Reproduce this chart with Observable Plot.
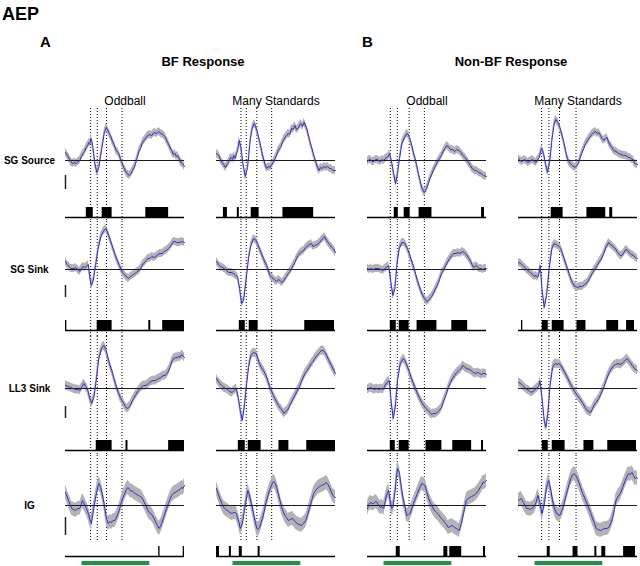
<!DOCTYPE html>
<html><head><meta charset="utf-8">
<script src="https://cdn.jsdelivr.net/npm/d3@7"></script>
<script src="https://cdn.jsdelivr.net/npm/@observablehq/plot@0.6"></script>
<style>
body{margin:0;background:#fff;font-family:"Liberation Sans",Arial,sans-serif;}
#wrap{position:relative;width:640px;height:566px;overflow:hidden;background:#fff;}
.t{position:absolute;white-space:nowrap;font-weight:bold;color:#000;line-height:1;}
.row{position:absolute;left:0;}
</style></head><body><div id="wrap">
<div class="t" style="left:2px;top:5px;font-size:18px">AEP</div>
<div class="t" style="left:40px;top:34px;font-size:15px">A</div>
<div class="t" style="left:362px;top:34px;font-size:15px">B</div>
<div class="t" style="left:203px;top:55px;font-size:13px;transform:translateX(-50%)">BF Response</div>
<div class="t" style="left:511px;top:55px;font-size:13px;transform:translateX(-50%)">Non-BF Response</div>
</div>
<script>
// ---- categories ----
const columns = ["BF|Oddball", "BF|Many Standards", "Non-BF|Oddball", "Non-BF|Many Standards"];
const columnLabels = ["Oddball", "Many Standards", "Oddball", "Many Standards"];
const rowLabels = ["SG Source", "SG Sink", "LL3 Sink", "IG"];

// ---- time domain (ms) and stimulus bar ----
const timeDomain = [-50, 310];
const stimulus = [0, 205];

// ---- dotted reference times per column (ms) ----
const markerTimes = [[26, 46, 74, 121], [24, 40, 72, 117], [19, 40, 76, 122], [20, 42, 74, 124]];

// ---- waveforms [time ms, amplitude] ----
const sgSourceBfOdd = [[-50,8],[-44,5],[-39,2],[-34,-1],[-29,-3],[-23,-2],[-17,-3],[-12,-1],[-7,0],[-2,4],[3,7],[8,9],[13,13],[17,15],[21,18],[24,17],[27,22],[30,19],[33,13],[39,-3],[45,-12],[51,-7],[55,2],[59,10],[63,18],[67,27],[73,33],[77,31],[81,28],[86,25],[91,20],[97,16],[103,10],[110,8],[116,2],[121,-2],[126,-7],[131,-10],[136,-13],[143,-15],[148,-13],[153,-10],[158,-7],[163,-2],[168,4],[173,10],[178,13],[183,18],[190,21],[196,24],[204,26],[211,25],[218,28],[226,27],[232,29],[239,27],[245,26],[251,24],[256,20],[261,17],[266,13],[271,10],[276,6],[281,7],[285,4],[289,5],[294,2],[299,-2],[304,-3],[310,-6]];
const sgSourceBfMany = [[-50,7],[-43,5],[-38,1],[-33,-2],[-28,-4],[-23,-7],[-18,-4],[-13,-2],[-9,2],[-5,3],[-1,1],[2,5],[7,2],[10,6],[14,10],[19,20],[24,13],[30,-3],[37,-16],[44,-7],[48,6],[52,20],[58,32],[64,37],[68,35],[72,30],[77,24],[82,17],[87,9],[92,2],[97,-4],[102,-8],[107,-6],[112,-7],[117,-4],[122,-2],[130,4],[137,10],[145,14],[152,20],[160,24],[167,27],[172,26],[177,32],[182,31],[187,35],[192,31],[197,32],[201,35],[205,37],[210,34],[215,38],[222,33],[227,27],[232,20],[237,14],[242,8],[247,2],[252,-3],[256,-7],[260,-10],[265,-7],[270,-8],[275,-6],[280,-7],[286,-6],[292,-8],[297,-8],[302,-10],[310,-10]];
const sgSourceNonOdd = [[-50,-1],[-45,1],[-41,1],[-36,-1],[-31,-1],[-26,1],[-21,1],[-16,0],[-11,-1],[-6,1],[-1,0],[4,2],[9,3],[13,4],[17,7],[24,-3],[29,-13],[35,-23],[41,-13],[47,2],[54,17],[62,23],[69,27],[73,26],[77,23],[84,15],[89,8],[94,2],[99,-5],[104,-13],[109,-20],[114,-27],[122,-32],[129,-28],[134,-23],[139,-18],[144,-14],[149,-10],[155,-6],[161,-2],[168,2],[174,5],[179,9],[184,12],[191,15],[196,13],[201,11],[207,11],[214,9],[220,11],[227,10],[233,8],[239,5],[245,3],[251,0],[256,-2],[261,-5],[267,-8],[274,-10],[280,-10],[287,-12],[294,-13],[301,-15],[310,-16]];
const sgSourceNonMany = [[-50,2],[-45,0],[-39,-1],[-33,1],[-27,0],[-22,-2],[-17,-1],[-12,0],[-7,1],[-2,-1],[3,-2],[8,1],[13,3],[17,9],[20,12],[23,10],[26,7],[33,-5],[38,-12],[45,0],[51,20],[58,37],[63,41],[67,39],[71,37],[78,30],[83,24],[88,17],[93,9],[98,2],[102,-1],[106,-3],[113,-5],[121,-7],[126,-5],[131,-3],[136,2],[141,7],[147,12],[153,17],[159,20],[165,23],[171,26],[178,28],[183,29],[188,27],[193,28],[198,25],[203,22],[208,20],[213,22],[218,23],[223,18],[228,15],[233,13],[238,10],[245,9],[253,7],[260,6],[268,5],[275,5],[283,3],[288,3],[293,1],[297,1],[301,-3],[310,-4]];

const sgSinkBfOdd = [[-50,8],[-45,5],[-39,3],[-34,1],[-29,1],[-24,1],[-19,2],[-13,0],[-7,-2],[-2,1],[3,3],[8,2],[13,3],[19,5],[23,-6],[28,-16],[34,-11],[41,4],[49,21],[57,33],[66,39],[73,41],[81,34],[86,29],[91,24],[97,18],[103,12],[108,8],[113,4],[118,0],[123,-3],[128,-5],[133,-7],[137,-8],[141,-9],[146,-7],[151,-6],[156,-5],[161,-4],[167,-2],[173,-1],[180,3],[186,6],[192,8],[199,11],[205,11],[211,13],[217,12],[223,13],[230,15],[236,16],[242,16],[249,18],[255,19],[261,21],[267,23],[273,26],[277,28],[281,28],[286,27],[291,27],[296,27],[301,28],[310,27]];
const sgSinkBfMany = [[-50,8],[-44,5],[-38,3],[-32,2],[-26,1],[-20,-1],[-13,-3],[-6,-3],[2,-4],[8,-6],[14,-7],[20,-19],[26,-34],[32,-31],[39,-12],[47,11],[54,24],[62,31],[70,29],[75,25],[80,21],[86,16],[92,11],[97,7],[102,4],[107,-1],[112,-6],[117,-8],[122,-9],[127,-11],[132,-12],[137,-10],[142,-11],[147,-13],[152,-12],[157,-9],[162,-7],[167,-4],[172,-2],[177,1],[182,4],[187,7],[192,11],[197,14],[202,16],[208,18],[214,19],[220,22],[227,24],[232,25],[237,26],[242,23],[247,24],[255,25],[262,27],[268,30],[273,31],[277,33],[283,29],[288,27],[292,25],[296,23],[300,22],[305,20],[310,17]];
const sgSinkNonOdd = [[-50,1],[-45,0],[-41,1],[-33,0],[-26,1],[-21,1],[-16,1],[-9,0],[-3,-1],[2,1],[7,2],[14,4],[21,-13],[27,-26],[33,-19],[39,4],[46,21],[54,27],[61,27],[66,24],[71,21],[76,16],[81,11],[86,6],[91,1],[96,-5],[101,-11],[106,-16],[111,-21],[116,-25],[121,-28],[129,-32],[134,-31],[139,-29],[144,-27],[149,-24],[155,-20],[161,-16],[168,-10],[174,-4],[181,0],[187,4],[193,8],[199,11],[205,14],[211,16],[218,16],[224,17],[230,16],[237,18],[243,17],[249,15],[255,12],[261,9],[266,5],[271,2],[275,3],[279,4],[284,2],[289,1],[294,1],[299,0],[304,1],[310,1]];
const sgSinkNonMany = [[-50,7],[-43,6],[-37,4],[-31,2],[-25,0],[-18,-2],[-12,-4],[-7,-5],[-2,-7],[3,-6],[8,-8],[12,-4],[16,4],[21,-19],[28,-38],[35,-26],[43,1],[51,21],[58,26],[63,25],[68,24],[73,23],[78,21],[83,16],[88,11],[93,6],[98,1],[103,-4],[108,-9],[113,-13],[118,-16],[123,-17],[128,-18],[136,-17],[143,-17],[150,-15],[158,-13],[165,-9],[173,-4],[180,0],[188,4],[195,8],[203,12],[208,16],[213,21],[218,24],[223,27],[228,25],[233,24],[238,22],[243,21],[248,18],[253,16],[258,14],[263,14],[269,17],[275,20],[280,19],[285,17],[291,15],[298,14],[304,12],[310,11]];

const ll3SinkBfOdd = [[-50,3],[-42,2],[-34,1],[-27,0],[-19,-1],[-13,-1],[-7,-2],[0,2],[6,5],[11,2],[16,0],[23,-9],[29,-15],[36,-9],[43,8],[51,30],[59,40],[66,43],[73,38],[78,31],[83,25],[90,18],[96,11],[101,5],[106,0],[111,-5],[116,-9],[121,-12],[126,-15],[131,-18],[136,-20],[141,-19],[146,-17],[151,-13],[156,-10],[163,-6],[171,-2],[178,1],[186,3],[193,3],[201,5],[208,7],[216,8],[223,8],[231,10],[238,11],[246,13],[252,13],[259,16],[266,21],[273,28],[278,30],[283,31],[288,31],[293,32],[297,31],[301,34],[305,33],[310,31]];
const ll3SinkBfMany = [[-50,10],[-45,7],[-40,5],[-34,3],[-28,1],[-22,0],[-16,-1],[-10,-3],[-3,-4],[3,-2],[10,0],[16,-9],[22,-22],[28,-32],[34,-19],[40,1],[47,21],[54,33],[62,36],[70,35],[75,30],[80,25],[86,21],[92,18],[97,15],[102,11],[107,6],[112,1],[117,-3],[122,-7],[127,-10],[132,-14],[138,-17],[144,-20],[149,-22],[154,-25],[159,-23],[164,-22],[169,-19],[174,-15],[181,-11],[187,-7],[193,-3],[200,1],[206,6],[212,11],[218,15],[224,18],[230,21],[237,25],[242,27],[247,30],[254,33],[262,36],[267,38],[272,38],[277,37],[283,33],[290,28],[296,24],[302,20],[310,15]];
const ll3SinkNonOdd = [[-50,-1],[-45,0],[-41,1],[-35,0],[-29,-1],[-22,0],[-16,-1],[-9,0],[-3,-1],[3,3],[9,6],[16,8],[22,-14],[28,-30],[34,-19],[41,8],[49,25],[59,30],[63,28],[67,25],[72,21],[77,16],[83,10],[89,5],[95,0],[101,-5],[107,-9],[114,-14],[120,-17],[127,-20],[133,-22],[139,-24],[144,-26],[149,-25],[155,-25],[161,-24],[167,-22],[174,-19],[181,-12],[189,-5],[195,1],[201,6],[207,10],[214,13],[220,16],[227,18],[233,20],[239,23],[245,21],[251,20],[258,19],[264,18],[270,16],[277,15],[283,16],[289,15],[294,14],[299,15],[305,15],[310,14]];
const ll3SinkNonMany = [[-50,6],[-43,5],[-37,3],[-31,1],[-25,-1],[-18,-2],[-12,-4],[-7,-3],[-2,-2],[3,0],[8,1],[12,3],[15,8],[21,-9],[28,-32],[33,-39],[39,-25],[45,1],[53,21],[58,24],[63,25],[68,24],[73,25],[78,23],[83,20],[90,16],[98,11],[105,6],[113,1],[120,-3],[128,-7],[135,-10],[143,-14],[150,-18],[158,-22],[163,-23],[168,-24],[173,-21],[178,-17],[185,-14],[193,-10],[200,-5],[208,1],[215,8],[223,15],[230,19],[238,23],[244,24],[251,25],[257,24],[263,25],[270,27],[278,30],[283,28],[288,26],[294,23],[301,20],[310,18]];

const igBfOdd = [[-50,13],[-45,9],[-41,5],[-36,1],[-31,-3],[-25,-4],[-19,-5],[-13,-3],[-7,-3],[-3,0],[1,5],[5,3],[9,0],[12,-2],[16,-5],[20,-9],[23,-13],[28,-18],[32,-10],[36,-2],[40,6],[44,13],[48,19],[51,22],[54,20],[57,18],[60,13],[64,7],[68,0],[71,-8],[75,-14],[79,-18],[84,-16],[89,-17],[94,-15],[99,-15],[104,-12],[109,-8],[114,-3],[119,3],[124,8],[129,12],[134,16],[139,18],[144,16],[148,14],[151,15],[156,13],[161,12],[166,11],[171,10],[176,9],[181,8],[187,4],[193,0],[198,-4],[203,-7],[208,-8],[213,-10],[218,-13],[223,-17],[228,-20],[233,-23],[237,-21],[241,-18],[246,-13],[251,-8],[256,-3],[261,2],[266,6],[271,10],[276,12],[281,13],[286,14],[291,15],[296,16],[301,18],[305,17],[310,20]];
const igBfMany = [[-50,17],[-45,12],[-40,7],[-34,2],[-28,-2],[-22,-4],[-16,-5],[-10,-7],[-3,-8],[2,-7],[7,-7],[11,-9],[14,-12],[18,-17],[22,-23],[26,-20],[30,-15],[34,-6],[38,2],[42,10],[45,15],[48,12],[52,7],[57,0],[62,-8],[67,-16],[72,-23],[76,-24],[80,-22],[85,-17],[90,-12],[95,-5],[100,3],[105,9],[110,15],[115,19],[120,23],[124,24],[128,22],[132,18],[137,12],[142,5],[147,-2],[152,-6],[157,-10],[162,-12],[167,-15],[173,-14],[180,-13],[187,-16],[194,-18],[200,-19],[207,-20],[213,-18],[220,-15],[226,-9],[232,-2],[238,5],[244,12],[250,15],[257,18],[262,19],[267,20],[275,21],[282,23],[287,21],[292,18],[297,14],[302,10],[306,9],[310,8]];
const igNonOdd = [[-50,-3],[-46,1],[-41,3],[-36,2],[-31,2],[-26,4],[-21,3],[-16,0],[-11,-2],[-6,-1],[-1,-3],[3,3],[6,8],[10,12],[14,15],[18,6],[21,0],[24,-3],[27,-2],[30,6],[34,15],[37,27],[41,37],[44,35],[47,32],[50,24],[54,15],[57,8],[61,2],[65,-4],[69,-10],[74,-9],[79,-8],[84,-3],[89,2],[95,7],[101,12],[107,17],[114,22],[119,21],[124,20],[129,14],[134,8],[140,3],[147,-2],[153,-5],[159,-7],[165,-9],[171,-12],[177,-14],[184,-17],[189,-19],[194,-22],[200,-21],[207,-20],[213,-22],[219,-23],[223,-24],[227,-25],[230,-22],[234,-18],[238,-12],[241,-7],[245,-1],[249,5],[254,7],[259,8],[265,9],[271,10],[276,11],[281,13],[286,15],[291,18],[295,20],[299,23],[304,23],[310,25]];
const igNonMany = [[-50,5],[-46,6],[-42,7],[-38,5],[-35,3],[-30,0],[-25,-3],[-20,-3],[-15,-4],[-10,-3],[-5,-2],[-1,0],[3,3],[6,7],[9,10],[12,6],[15,3],[18,-3],[21,-8],[25,-3],[29,3],[32,11],[35,18],[38,22],[41,25],[44,21],[48,15],[52,7],[56,0],[60,-4],[65,-8],[70,-9],[75,-10],[80,-6],[85,-2],[91,6],[98,15],[103,21],[108,27],[113,30],[118,32],[123,30],[128,27],[133,23],[138,18],[144,12],[151,7],[157,2],[163,-3],[168,-7],[173,-12],[179,-17],[185,-23],[191,-24],[198,-25],[204,-24],[211,-23],[217,-23],[223,-22],[229,-18],[235,-12],[240,-4],[245,5],[251,9],[258,12],[265,18],[273,25],[278,29],[283,32],[288,31],[293,33],[298,30],[303,27],[306,28],[310,27]];

// ---- band half-widths (SEM) per row ----
const semByRow = [4, 4, 4.5, 7];

// ---- significance intervals [start ms, end ms] per row, per column ----
const sigSGSource = [[[13,34],[61,91],[193,262]], [[-29,-17],[13,19],[55,79],[151,244]], [[31,43],[61,79],[106,145],[295,304]], [[49,85],[157,214],[226,235]]];
const sigSGSink = [[[-50,-46],[46,91],[202,208],[244,310]], [[19,37],[49,76],[217,307]], [[19,37],[46,76],[100,160],[205,253]], [[-41,-37],[22,40],[52,88],[127,154],[217,253],[277,301]]];
const sigLL3Sink = [[[43,91],[133,139],[262,310]], [[16,37],[46,85],[139,169],[223,310]], [[19,34],[46,76],[127,175],[208,265],[295,301]], [[22,40],[52,91],[148,178],[220,307]]];
const sigIG = [[[232,236],[306,310]], [[-50,-41],[-11,-5],[19,28],[76,82]], [[37,49],[181,193],[199,235],[301,307]], [[37,46],[115,130],[181,187],[202,214],[268,304]]];

// ---- scale bars (amplitude range) per row ----
const scaleBars = [[-15,-29], [-16,-28], [-18,-30], [-12,-30]];

// ---------- assembly ----------
const waves = [
  [sgSourceBfOdd, sgSourceBfMany, sgSourceNonOdd, sgSourceNonMany],
  [sgSinkBfOdd, sgSinkBfMany, sgSinkNonOdd, sgSinkNonMany],
  [ll3SinkBfOdd, ll3SinkBfMany, ll3SinkNonOdd, ll3SinkNonMany],
  [igBfOdd, igBfMany, igNonOdd, igNonMany]
];
const sigs = [sigSGSource, sigSGSink, sigLL3Sink, sigIG];

// layout of each row strip (page pixels)
const layout = [
  {svgTop: 80, frameTop: 108, frameBottom: 221, zero: 160, sigBase: 217},
  {svgTop: 221, frameTop: 221, frameBottom: 336, zero: 269, sigBase: 330},
  {svgTop: 336, frameTop: 336, frameBottom: 455, zero: 388, sigBase: 450},
  {svgTop: 455, frameTop: 455, frameBottom: 566, zero: 505, sigBase: 556, dotEnd: 540, green: [561, 565]}
];

const wrap = document.getElementById("wrap");
const font = "'Liberation Sans', Arial, sans-serif";

layout.forEach((L, r) => {
  const svgH = L.frameBottom - L.svgTop;
  const yTop = L.zero - L.frameTop, yBot = L.zero - L.frameBottom;
  const sigBase = L.zero - L.sigBase;
  const dotEnd = L.dotEnd != null ? L.zero - L.dotEnd : yBot;
  const sem = semByRow[r];

  const waveData = waves[r].flatMap((w, c) => w.map(([t, v]) => ({col: columns[c], t, v})));
  const sigData = sigs[r].flatMap((s, c) => s.map(([t1, t2]) => ({col: columns[c], t1, t2})));
  const markerData = markerTimes.flatMap((ts, c) => ts.map(t => ({col: columns[c], t})));

  const marks = [
    Plot.ruleX(markerData, {fx: "col", x: "t", y1: yTop, y2: dotEnd, stroke: "#000", strokeWidth: 1, strokeDasharray: "1,2"}),
    Plot.areaY(waveData, {fx: "col", x: "t", y1: d => d.v - sem, y2: d => d.v + sem, fill: "#b3b3b3"}),
    Plot.ruleY([0], {stroke: "#1a1a1a", strokeWidth: 1}),
    Plot.lineY(waveData, {fx: "col", x: "t", y: "v", stroke: "#2e2ed2", strokeWidth: 1}),
    Plot.ruleY([sigBase], {stroke: "#000", strokeWidth: 1.4}),
    Plot.rect(sigData, {fx: "col", x1: "t1", x2: "t2", y1: sigBase, y2: sigBase + 10, fill: "#000"}),
    Plot.ruleX([{col: columns[0]}], {fx: "col", x: timeDomain[0], y1: scaleBars[r][0], y2: scaleBars[r][1], stroke: "#222", strokeWidth: 1.5}),
    Plot.text([{col: columns[0], label: rowLabels[r]}], {fx: "col", x: timeDomain[0], y: 0, text: "label", dx: -36, textAnchor: "middle", fontWeight: "bold", fontSize: 10, fill: "#000"})
  ];
  if (r === 0) {
    marks.push(Plot.text(columns.map((c, i) => ({col: c, label: columnLabels[i]})), {fx: "col", text: "label", frameAnchor: "top", dy: -12, fontSize: 12, fill: "#000"}));
  }
  if (L.green) {
    const gy1 = L.zero - L.green[0], gy2 = L.zero - L.green[1];
    marks.push(Plot.rect(columns.map(c => ({col: c})), {fx: "col", x1: stimulus[0], x2: stimulus[1], y1: gy1, y2: gy2, fill: "#1f9246"}));
  }

  const chart = Plot.plot({
    width: 640,
    height: svgH,
    marginLeft: 63,
    marginRight: 1,
    marginTop: L.frameTop - L.svgTop,
    marginBottom: 0,
    x: {domain: timeDomain, axis: null},
    y: {domain: [yBot, yTop], axis: null},
    fx: {domain: columns, paddingInner: 0.2105, paddingOuter: 0, axis: null, label: null},
    style: {fontFamily: font, background: "transparent", overflow: "visible"},
    marks
  });
  chart.classList.add("row");
  chart.style.top = L.svgTop + "px";
  chart.style.position = "absolute";
  wrap.appendChild(chart);
});
</script>
</body></html>
